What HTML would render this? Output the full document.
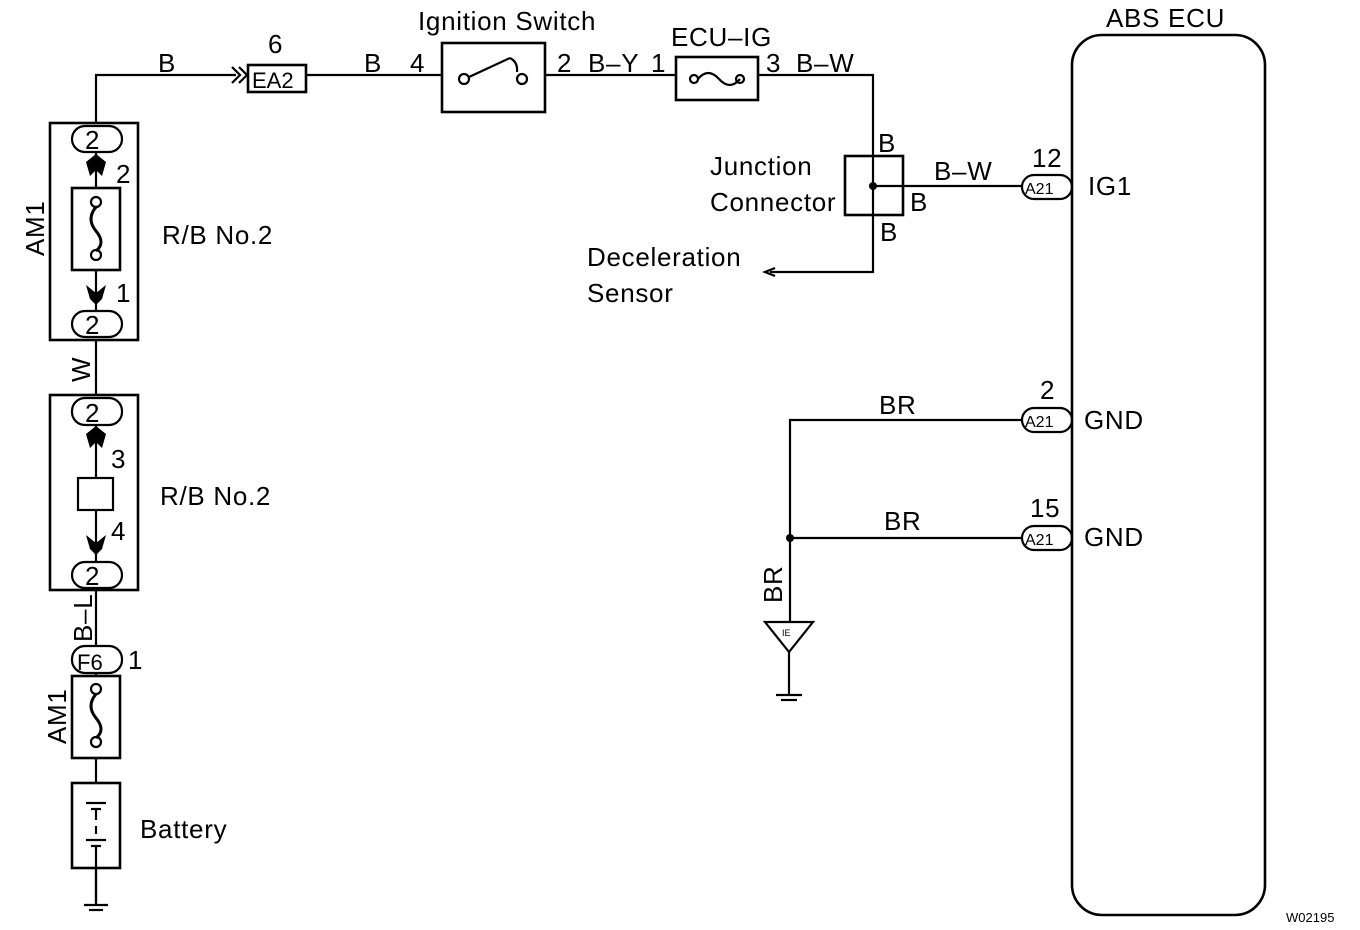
<!DOCTYPE html>
<html><head><style>body{margin:0;background:#fff}svg{display:block}text{font-family:"Liberation Sans",sans-serif;fill:#000}</style></head><body>
<svg width="1360" height="930" viewBox="0 0 1360 930" xmlns="http://www.w3.org/2000/svg">
<g stroke="#000" stroke-width="2.2" fill="none">
<polyline points="96,123 96,75 236,75"/>
<polyline points="232,67 240,75 232,83"/><polyline points="239,67 247,75 239,83"/>
<rect x="248" y="65" width="58" height="27" stroke-width="2.6"/>
<line x1="306" y1="75" x2="442" y2="75"/>
<rect x="442" y="43" width="103" height="69" stroke-width="2.6"/>
<circle cx="464" cy="79" r="5"/><circle cx="522" cy="79" r="5"/>
<line x1="469" y1="77" x2="510" y2="58"/><path d="M510 58 q8 4 7 14"/>
<line x1="545" y1="75" x2="676" y2="75"/>
<rect x="676" y="57" width="82" height="43" stroke-width="2.6"/>
<circle cx="694" cy="79" r="4"/><circle cx="740" cy="79" r="4"/>
<path d="M698 79 q10 -12 21 0 t21 0"/>
<polyline points="758,75 873,75 873,272 770,272"/>
<polyline points="775,268 765,272 775,276"/>
<rect x="845" y="156" width="58" height="59" stroke-width="2.6"/>
<line x1="873" y1="186" x2="1022" y2="186"/>
<rect x="1072" y="35" width="193" height="880" rx="30" stroke-width="2.6"/>
<rect x="1022" y="175" width="50" height="24" rx="12"/>
<polyline points="1022,420 790,420 790,622"/>
<line x1="790" y1="538" x2="1022" y2="538"/>
<rect x="1022" y="408" width="50" height="24" rx="12"/>
<rect x="1022" y="526" width="50" height="24" rx="12"/>
<polygon points="765,622 813,622 789,652"/>
<line x1="789" y1="652" x2="789" y2="695"/>
<line x1="776" y1="695" x2="802" y2="695"/><line x1="781" y1="700" x2="797" y2="700"/>
<rect x="50" y="123" width="88" height="217" stroke-width="2.6"/>
<line x1="96" y1="152" x2="96" y2="310"/>
<rect x="72" y="126" width="50" height="26" rx="13"/>
<rect x="72" y="311" width="50" height="26" rx="13"/>
<rect x="72" y="188" width="48" height="82" stroke-width="2.6" fill="#fff"/>
<circle cx="96" cy="202" r="5" fill="#fff"/><circle cx="96" cy="255" r="5" fill="#fff"/>
<path d="M96 207 q-10 12 0 24 t0 20" stroke-width="3"/>
<line x1="96" y1="340" x2="96" y2="395"/>
<rect x="50" y="395" width="88" height="195" stroke-width="2.6"/>
<line x1="96" y1="426" x2="96" y2="562"/>
<rect x="72" y="398" width="50" height="27" rx="13"/>
<rect x="72" y="562" width="50" height="26" rx="13"/>
<rect x="78" y="478" width="35" height="32" fill="#fff"/>
<line x1="96" y1="590" x2="96" y2="646"/>
<rect x="72" y="646" width="50" height="27" rx="13"/>
<line x1="96" y1="673" x2="96" y2="905"/>
<rect x="72" y="676" width="48" height="82" stroke-width="2.6" fill="#fff"/>
<circle cx="96" cy="689" r="5" fill="#fff"/><circle cx="96" cy="742" r="5" fill="#fff"/>
<path d="M96 694 q-10 12 0 24 t0 20" stroke-width="3"/>
<rect x="72" y="783" width="48" height="85" stroke-width="2.6" fill="#fff"/>
<line x1="86" y1="803" x2="106" y2="803"/><line x1="91" y1="809" x2="101" y2="809"/>
<line x1="96" y1="809" x2="96" y2="820"/>
<line x1="96" y1="826" x2="96" y2="834"/>
<line x1="86" y1="840" x2="106" y2="840"/><line x1="91" y1="846" x2="101" y2="846"/>
<line x1="96" y1="846" x2="96" y2="905"/>
<line x1="84" y1="905" x2="108" y2="905"/><line x1="89" y1="910" x2="103" y2="910"/>
</g>
<g fill="#000">
<circle cx="873" cy="186" r="4"/><circle cx="790" cy="538" r="4"/>
<path d="M86 162 l10 -8 l10 8 l-4 14 l-6 -6 l-6 6 z"/>
<path d="M86 285 l4 14 l6 6 l6 -6 l4 -14 l-10 8 z"/>
<path d="M86 434 l10 -8 l10 8 l-4 14 l-6 -6 l-6 6 z"/>
<path d="M86 535 l4 14 l6 6 l6 -6 l4 -14 l-10 8 z"/>
</g>
<g font-size="26" letter-spacing="0.7">
<text x="158" y="72">B</text><text x="268" y="53">6</text><text x="252" y="88" font-size="22" letter-spacing="0">EA2</text>
<text x="364" y="72">B</text><text x="410" y="72">4</text>
<text x="418" y="30">Ignition Switch</text>
<text x="557" y="72">2</text><text x="588" y="72">B–Y</text><text x="651" y="72">1</text>
<text x="671" y="46">ECU–IG</text><text x="766" y="72">3</text><text x="796" y="72">B–W</text>
<text x="1106" y="27">ABS ECU</text>
<text x="878" y="152">B</text><text x="710" y="175">Junction</text><text x="710" y="211">Connector</text>
<text x="910" y="211">B</text><text x="880" y="241">B</text>
<text x="934" y="180">B–W</text><text x="1032" y="167">12</text><text x="1088" y="195">IG1</text>
<text x="587" y="266">Deceleration</text><text x="587" y="302">Sensor</text>
<text x="879" y="414">BR</text><text x="1040" y="399">2</text><text x="1084" y="429">GND</text>
<text x="884" y="530">BR</text><text x="1030" y="517">15</text><text x="1084" y="546">GND</text>
<text x="85" y="149">2</text><text x="85" y="334">2</text><text x="85" y="422">2</text><text x="85" y="585">2</text>
<text x="116" y="183">2</text><text x="116" y="302">1</text><text x="111" y="468">3</text><text x="111" y="540">4</text>
<text x="162" y="244">R/B No.2</text><text x="160" y="505">R/B No.2</text>
<text x="77" y="670" font-size="22" letter-spacing="0">F6</text><text x="128" y="669">1</text>
<text x="140" y="838">Battery</text>
<text transform="translate(44,256) rotate(-90)">AM1</text>
<text transform="translate(90,382) rotate(-90)">W</text>
<text transform="translate(92,642) rotate(-90)">B–L</text>
<text transform="translate(66,744) rotate(-90)">AM1</text>
<text transform="translate(782,603) rotate(-90)">BR</text>
</g>
<g font-size="16">
<text x="1025" y="194">A21</text><text x="1025" y="427">A21</text><text x="1025" y="545">A21</text>
<text x="782" y="636" font-size="9">IE</text>
<text x="1286" y="922" font-size="13">W02195</text>
</g>
</svg>
</body></html>
